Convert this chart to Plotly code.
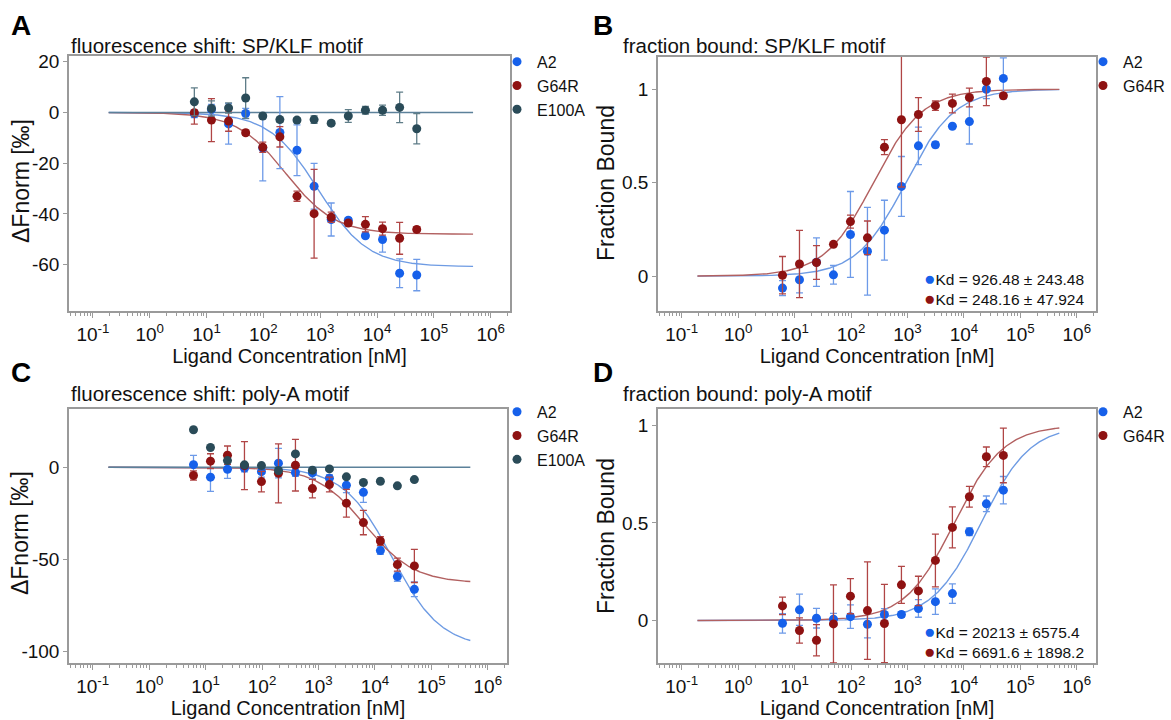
import numpy as np
import plotly.graph_objects as go

W, H = 1171, 720
FONT = "Liberation Sans, Arial, Helvetica, sans-serif"
TXT = "#111111"
FRAME = "#9a9a9a"

# ---------------- data ----------------
conc = [6.1035, 12.207, 24.414, 48.828, 97.656, 195.31, 390.63, 781.25,
        1562.5, 3125.0, 6250.0, 12500.0, 25000.0, 50000.0]

# Panel A: fluorescence shift, SP/KLF motif
spA_A2 = [-0.5, 1.2, -4.5, -0.4, -14.0, -7.9, -14.9, -29.1, -42.2, -42.5, -48.6, -50.1, -63.4, -64.1]
spA_A2_err = [1.5, 2.0, 8.0, 2.0, 13.0, 14.2, 10.0, 9.0, 6.5, 1.0, 1.0, 5.0, 5.7, 6.2]
spA_G64R = [-0.1, -3.0, -3.4, -8.0, -13.7, -9.6, -33.0, -39.9, -41.3, -43.6, -44.1, -45.8, -49.6, -46.1]
spA_G64R_err = [4.5, 8.5, 4.0, 1.0, 2.0, 4.0, 2.0, 17.5, 2.0, 1.0, 3.0, 2.6, 6.3, 1.0]
spA_E100A = [4.2, 1.6, 1.8, 5.7, -1.4, -2.8, -3.0, -2.8, -4.2, -1.4, 0.9, 0.9, 2.0, -6.4]
spA_E100A_err = [5.5, 3.0, 2.0, 8.0, 1.0, 1.0, 1.0, 1.5, 1.0, 2.5, 1.5, 2.0, 6.0, 6.0]

# Panel B: fraction bound, SP/KLF motif
fbB_A2 = [-0.064, -0.019, 0.075, 0.007, 0.223, 0.133, 0.246, 0.48, 0.697, 0.703, 0.802, 0.827, 1.0, 1.058]
fbB_A2_err = [0.04, 0.07, 0.13, 0.05, 0.23, 0.235, 0.16, 0.16, 0.10, 0.015, 0.01, 0.12, 0.05, 0.11]
fbB_G64R = [0.005, 0.065, 0.073, 0.17, 0.292, 0.205, 0.69, 0.837, 0.865, 0.912, 0.924, 0.956, 1.042, 0.965]
fbB_G64R_err = [0.10, 0.18, 0.09, 0.01, 0.035, 0.09, 0.04, 0.36, 0.09, 0.025, 0.05, 0.05, 0.13, 0.01]

# Panel C: fluorescence shift, poly-A motif
paC_A2 = [1.4, -5.4, -1.1, -0.5, -2.4, 2.2, -2.9, -3.1, -6.0, -9.8, -13.6, -45.2, -59.3, -66.2]
paC_A2_err = [5.0, 7.7, 5.0, 2.0, 3.0, 8.0, 2.0, 3.0, 2.0, 4.0, 5.5, 2.0, 2.5, 4.0]
paC_G64R = [-4.5, 3.3, 6.5, 0.9, -7.8, -3.3, 1.1, -11.6, -9.4, -19.5, -30.0, -40.0, -52.8, -53.5]
paC_G64R_err = [2.5, 4.0, 5.0, 13.0, 5.6, 16.0, 14.0, 5.0, 4.0, 7.5, 6.6, 2.4, 3.5, 9.0]
paC_E100A = [20.3, 10.7, 3.6, 1.3, 0.9, -1.8, 7.2, -1.6, -0.9, -5.2, -8.3, -7.6, -10.1, -6.7]
paC_E100A_err = [0.8, 0.8, 0.8, 0.8, 0.8, 0.8, 0.8, 0.8, 0.8, 0.8, 0.8, 0.8, 0.8, 0.8]

# Panel D: fraction bound, poly-A motif
paD_A2 = [-0.014, 0.055, 0.012, 0.007, 0.02, -0.019, 0.031, 0.031, 0.062, 0.097, 0.138, 0.455, 0.598, 0.668]
paD_A2_err = [0.05, 0.08, 0.05, 0.03, 0.06, 0.07, 0.03, 0.015, 0.045, 0.065, 0.05, 0.02, 0.04, 0.07]
paD_G64R = [0.075, -0.051, -0.101, -0.017, 0.125, 0.051, -0.015, 0.183, 0.152, 0.308, 0.477, 0.634, 0.839, 0.846]
paD_G64R_err = [0.045, 0.065, 0.08, 0.20, 0.09, 0.25, 0.20, 0.095, 0.075, 0.135, 0.105, 0.053, 0.05, 0.14]

# Fit parameters (Kd in nM, amplitude of the fluorescence change)
kd_sp = {"A2": 926.48, "G64R": 248.16}
kd_sp_err = {"A2": "243.48", "G64R": "47.924"}
amp_sp = {"A2": -60.8, "G64R": -48.0}
kd_pa = {"A2": 20213, "G64R": 6691.6}
kd_pa_err = {"A2": "6575.4", "G64R": "1898.2"}
amp_pa = {"A2": -97.8, "G64R": -62.8}
kd_sp_text = {"A2": "926.48", "G64R": "248.16"}
kd_pa_text = {"A2": "20213", "G64R": "6691.6"}
fit_range = [0.19, 4.9e5]

xtick_vals = [0.1, 1, 10, 100, 1e3, 1e4, 1e5, 1e6]
xtick_text = ["10<sup>-1</sup>", "10<sup>0</sup>", "10<sup>1</sup>", "10<sup>2</sup>",
              "10<sup>3</sup>", "10<sup>4</sup>", "10<sup>5</sup>", "10<sup>6</sup>"]
titles = ["fluorescence shift: SP/KLF motif", "fraction bound: SP/KLF motif",
          "fluorescence shift: poly-A motif", "fraction bound: poly-A motif"]
ytitles = ["ΔFnorm [‰]", "Fraction Bound", "ΔFnorm [‰]", "Fraction Bound"]

# ---------------- style ----------------
MARK = {"A2": "#1660ea", "G64R": "#8e1212", "E100A": "#2a4b58"}
ERRC = {"A2": "#6d9ae8", "G64R": "#b04545", "E100A": "#5f7d88"}
LINEC = {"A2": "#6e9be3", "G64R": "#b26060", "E100A": "#5c819a"}

def px_x(p):
    return p / W

def px_y(p):
    return 1 - p / H

XR = [-1.42, 6.34]
minor_vals = [m * 10.0 ** e for e in range(-2, 7) for m in range(2, 10)]

fig = go.Figure()

fit_x = np.logspace(np.log10(fit_range[0]), np.log10(fit_range[1]), 400)

def add_fit(xa, ya, yvals, color):
    fig.add_trace(go.Scatter(x=fit_x, y=yvals, mode="lines", xaxis=xa, yaxis=ya,
                             line=dict(color=color, width=1.4), showlegend=False,
                             hoverinfo="skip"))

def add_data(xa, ya, name, y, err, legend):
    fig.add_trace(go.Scatter(x=conc, y=y, mode="markers", name=name, xaxis=xa, yaxis=ya,
                             marker=dict(color=MARK[name], size=9),
                             error_y=dict(type="data", array=err, visible=True,
                                          color=ERRC[name], thickness=1.3, width=3.5),
                             legend=legend, legendgroup=legend + name))

# Panel A
add_fit("x", "y", amp_sp["A2"] * fit_x / (fit_x + kd_sp["A2"]), LINEC["A2"])
add_fit("x", "y", amp_sp["G64R"] * fit_x / (fit_x + kd_sp["G64R"]), LINEC["G64R"])
add_fit("x", "y", np.zeros_like(fit_x), LINEC["E100A"])
add_data("x", "y", "A2", spA_A2, spA_A2_err, "legend")
add_data("x", "y", "G64R", spA_G64R, spA_G64R_err, "legend")
add_data("x", "y", "E100A", spA_E100A, spA_E100A_err, "legend")

# Panel B
add_fit("x2", "y2", fit_x / (fit_x + kd_sp["A2"]), LINEC["A2"])
add_fit("x2", "y2", fit_x / (fit_x + kd_sp["G64R"]), LINEC["G64R"])
add_data("x2", "y2", "A2", fbB_A2, fbB_A2_err, "legend2")
add_data("x2", "y2", "G64R", fbB_G64R, fbB_G64R_err, "legend2")

# Panel C
add_fit("x3", "y3", amp_pa["A2"] * fit_x / (fit_x + kd_pa["A2"]), LINEC["A2"])
add_fit("x3", "y3", amp_pa["G64R"] * fit_x / (fit_x + kd_pa["G64R"]), LINEC["G64R"])
add_fit("x3", "y3", np.zeros_like(fit_x), LINEC["E100A"])
add_data("x3", "y3", "A2", paC_A2, paC_A2_err, "legend3")
add_data("x3", "y3", "G64R", paC_G64R, paC_G64R_err, "legend3")
add_data("x3", "y3", "E100A", paC_E100A, paC_E100A_err, "legend3")

# Panel D
add_fit("x4", "y4", fit_x / (fit_x + kd_pa["A2"]), LINEC["A2"])
add_fit("x4", "y4", fit_x / (fit_x + kd_pa["G64R"]), LINEC["G64R"])
add_data("x4", "y4", "A2", paD_A2, paD_A2_err, "legend4")
add_data("x4", "y4", "G64R", paD_G64R, paD_G64R_err, "legend4")

def xcfg(dom, anchor):
    return dict(type="log", range=XR, domain=dom, anchor=anchor,
                showline=True, mirror=True, linecolor=FRAME, linewidth=1.5,
                ticks="outside", ticklen=5, tickwidth=1, tickcolor=FRAME,
                tickmode="array", tickvals=xtick_vals, ticktext=xtick_text,
                minor=dict(tickmode="array", tickvals=minor_vals, ticks="outside",
                           ticklen=3, tickwidth=1, tickcolor=FRAME),
                showgrid=False, zeroline=False,
                tickfont=dict(size=19, family=FONT, color=TXT),
                title=dict(text="Ligand Concentration [nM]", standoff=0,
                           font=dict(size=20, family=FONT, color=TXT)))

def ycfg(dom, anchor, rng, tv, tt):
    return dict(range=rng, domain=dom, anchor=anchor,
                showline=True, mirror=True, linecolor=FRAME, linewidth=1.5,
                ticks="outside", ticklen=4, tickwidth=1, tickcolor=FRAME,
                tickmode="array", tickvals=tv, ticktext=tt,
                showgrid=False, zeroline=False,
                tickfont=dict(size=19, family=FONT, color=TXT))

legend_common = dict(xanchor="left", yanchor="top", bgcolor="rgba(0,0,0,0)",
                     font=dict(size=16, family=FONT, color=TXT), itemwidth=30,
                     tracegroupgap=0, traceorder="normal")

fig.update_layout(
    width=W, height=H, margin=dict(l=0, r=0, t=0, b=0),
    paper_bgcolor="white", plot_bgcolor="white",
    font=dict(family=FONT, color=TXT),
    xaxis=xcfg([px_x(69), px_x(510)], "y"),
    yaxis=ycfg([px_y(309), px_y(52)], "x", [-78.4, 22.4],
               [-60, -40, -20, 0, 20], ["-60", "-40", "-20", "0", "20"]),
    xaxis2=xcfg([px_x(658), px_x(1096)], "y2"),
    yaxis2=ycfg([px_y(309), px_y(53)], "x2", [-0.188, 1.174],
                [0, 0.5, 1], ["0", "0.5", "1"]),
    xaxis3=xcfg([px_x(69), px_x(507)], "y3"),
    yaxis3=ycfg([px_y(663), px_y(407)], "x3", [-106.3, 31.7],
                [-100, -50, 0], ["-100", "-50", "0"]),
    xaxis4=xcfg([px_x(658), px_x(1096)], "y4"),
    yaxis4=ycfg([px_y(663), px_y(407)], "x4", [-0.219, 1.085],
                [0, 0.5, 1], ["0", "0.5", "1"]),
    legend=dict(x=px_x(497), y=px_y(41), **legend_common),
    legend2=dict(x=px_x(1083), y=px_y(41), **legend_common),
    legend3=dict(x=px_x(497), y=px_y(393), **legend_common),
    legend4=dict(x=px_x(1083), y=px_y(393), **legend_common),
)

ann = []
for letter, x, y in [("A", 9, 22), ("B", 591, 22), ("C", 9, 371), ("D", 591, 371)]:
    ann.append(dict(text="<b>%s</b>" % letter, x=px_x(x), y=px_y(y), xref="paper", yref="paper",
                    xanchor="left", yanchor="middle", showarrow=False,
                    font=dict(size=28, family=FONT, color="#000000")))
for t, x, y in zip(titles, [69, 621, 69, 621], [42, 42, 392, 392]):
    ann.append(dict(text=t, x=px_x(x), y=px_y(y), xref="paper", yref="paper",
                    xanchor="left", yanchor="middle", showarrow=False,
                    font=dict(size=20.5, family=FONT, color=TXT)))
# y-axis titles
for t, x, y in zip(ytitles, [21, 606, 20, 606], [178, 180, 532, 535]):
    ann.append(dict(text=t, x=px_x(x), y=px_y(y), xref="paper", yref="paper",
                    xanchor="center", yanchor="middle", textangle=-90, showarrow=False,
                    font=dict(size=23, family=FONT, color=TXT)))

def kd_block(names, kdtxt, kderr, y):
    lines = ["<span style='color:%s;font-size:19px'>●</span>Kd = %s ± %s" % (MARK[n], kdtxt[n], kderr[n])
             for n in names]
    return dict(text="<br>".join(lines), x=px_x(922), y=px_y(y), xref="paper", yref="paper",
                xanchor="left", yanchor="middle", align="left", showarrow=False,
                font=dict(size=15.5, family=FONT, color=TXT))

ann.append(kd_block(["A2", "G64R"], kd_sp_text, kd_sp_err, 286))
ann.append(kd_block(["A2", "G64R"], kd_pa_text, kd_pa_err, 641))
fig.update_layout(annotations=ann)

fig.write_html("out.html")
